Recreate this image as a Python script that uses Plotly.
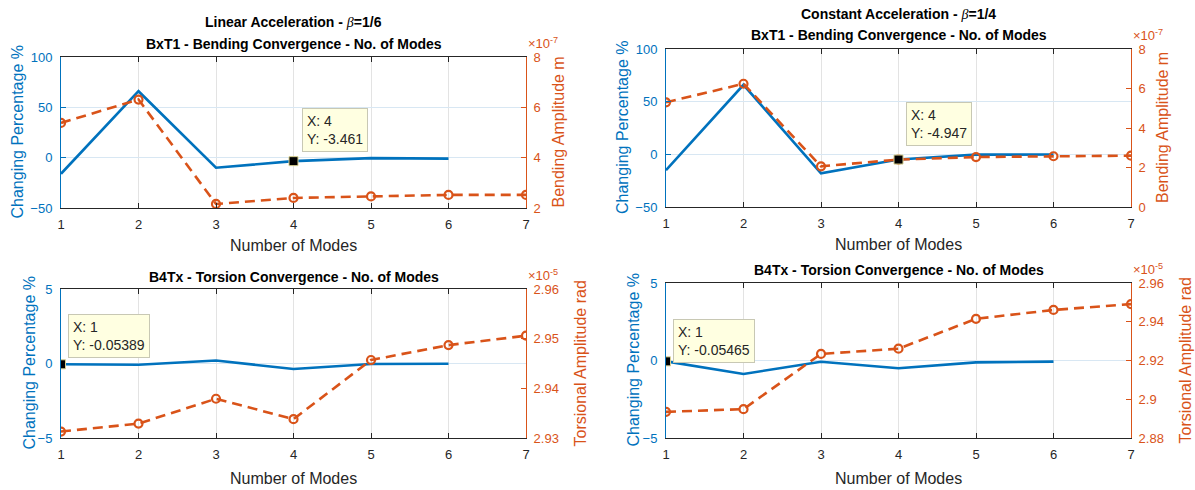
import plotly.graph_objects as go

# ---------------- data ----------------
modes = [1, 2, 3, 4, 5, 6, 7]
modes_pct = [1, 2, 3, 4, 5, 6]

# Linear acceleration (beta = 1/6)
bend_pct_lin = [-16, 66, -10, -3.461, -0.5, -1]
bend_amp_lin_e7 = [5.38, 6.31, 2.16, 2.40, 2.46, 2.52, 2.52]      # x 1e-7 m
tors_pct_lin = [-0.05389, -0.08, 0.2, -0.37, -0.03, -0.02]
tors_amp_lin_e5 = [2.9313, 2.9329, 2.9379, 2.9338, 2.9457, 2.9487, 2.9506]  # x 1e-5 rad

# Constant acceleration (beta = 1/4)
bend_pct_con = [-15, 66, -18, -4.947, -0.3, -0.2]
bend_amp_con_e7 = [5.30, 6.24, 2.06, 2.40, 2.53, 2.57, 2.60]
tors_pct_con = [-0.05465, -0.87, -0.08, -0.5, -0.12, -0.07]
tors_amp_con_e5 = [2.8935, 2.8949, 2.9234, 2.9261, 2.9415, 2.9461, 2.9491]

# datatips (x, y)
tip_tl = (4, -3.461)
tip_tr = (4, -4.947)
tip_bl = (1, -0.05389)
tip_br = (1, -0.05465)

# ---------------- style ----------------
W, H = 1195, 490
BLUE = "#0072BD"
ORANGE = "#D95319"
DARK = "#262626"
FONT = "Liberation Sans, Arial, sans-serif"

# plot-area pixel boxes: (left, right, top, bottom)
boxes = {
    "tl": (61, 526, 57, 208),
    "tr": (666, 1131, 49, 207),
    "bl": (61, 526, 289, 438),
    "br": (666, 1131, 283, 438),
}


def xd(b):
    return [b[0] / W, b[1] / W]


def yd(b):
    return [1 - b[3] / H, 1 - b[2] / H]


fig = go.Figure()

panels = [
    ("tl", "x", "y", "y2", bend_pct_lin, bend_amp_lin_e7, [-50, 100], [-50, 0, 50, 100],
     [2, 8], [2, 4, 6, 8], ["2", "4", "6", "8"], "Bending Amplitude m", "-7", tip_tl),
    ("tr", "x2", "y3", "y4", bend_pct_con, bend_amp_con_e7, [-50, 100], [-50, 0, 50, 100],
     [0, 8], [0, 2, 4, 6, 8], ["0", "2", "4", "6", "8"], "Bending Amplitude m", "-7", tip_tr),
    ("bl", "x3", "y5", "y6", tors_pct_lin, tors_amp_lin_e5, [-5, 5], [-5, 0, 5],
     [2.93, 2.96], [2.93, 2.94, 2.95, 2.96], ["2.93", "2.94", "2.95", "2.96"], "Torsional Amplitude rad", "-5", tip_bl),
    ("br", "x4", "y7", "y8", tors_pct_con, tors_amp_con_e5, [-5, 5], [-5, 0, 5],
     [2.88, 2.96], [2.88, 2.90, 2.92, 2.94, 2.96], ["2.88", "2.9", "2.92", "2.94", "2.96"], "Torsional Amplitude rad", "-5", tip_br),
]

layout_axes = {}
annotations = []
shapes = []

label_shift = {
    "tl": dict(left=-44, right=32, xlab=-37, title2=13, title1=35, tip=(8, 9)),
    "tr": dict(left=-44, right=31, xlab=-38, title2=14, title1=35, tip=(7, 14)),
    "bl": dict(left=-32, right=54, xlab=-40, title2=12, title1=None, tip=(7, 6)),
    "br": dict(left=-33, right=54, xlab=-40, title2=13, title1=None, tip=(7, -2)),
}
titles = {
    "tl": ("<b>Linear Acceleration - </b><span style='font-family:Liberation Serif'><i>β</i></span><b>=1/6</b>",
           "<b>BxT1 - Bending Convergence - No. of Modes</b>"),
    "tr": ("<b>Constant Acceleration - </b><span style='font-family:Liberation Serif'><i>β</i></span><b>=1/4</b>",
           "<b>BxT1 - Bending Convergence - No. of Modes</b>"),
    "bl": (None, "<b>B4Tx - Torsion Convergence - No. of Modes</b>"),
    "br": (None, "<b>B4Tx - Torsion Convergence - No. of Modes</b>"),
}

for (key, xa, yl, yr, pct, amp, lrng, lticks, rrng, rticks, rtext, rtitle, expo, tip) in panels:
    b = boxes[key]
    s = label_shift[key]
    xname = "xaxis" + xa[1:]
    ylname = "yaxis" + yl[1:]
    yrname = "yaxis" + yr[1:]

    fig.add_trace(go.Scatter(x=modes_pct, y=pct, xaxis=xa, yaxis=yl, mode="lines",
                             line=dict(color=BLUE, width=2.6), showlegend=False, hoverinfo="skip"))
    fig.add_trace(go.Scatter(x=modes, y=amp, xaxis=xa, yaxis=yr, mode="lines+markers",
                             line=dict(color=ORANGE, width=2.6, dash="10px,6px"),
                             marker=dict(symbol="circle-open", size=8, color=ORANGE, line=dict(width=2.2, color=ORANGE)),
                             showlegend=False, hoverinfo="skip"))

    layout_axes[xname] = dict(
        domain=xd(b), anchor=yl, range=[1, 7], tickvals=modes, ticks="inside", ticklen=5,
        tickcolor=DARK, showline=True, linecolor=DARK, linewidth=1, mirror="ticks",
        showgrid=True, gridcolor="#e3e3e3", gridwidth=1, zeroline=False,
        tickfont=dict(family=FONT, size=13, color=DARK), ticklabelstandoff=4, fixedrange=True,
    )
    layout_axes[ylname] = dict(
        domain=yd(b), anchor=xa, range=lrng, tickvals=lticks, ticks="inside", ticklen=5,
        tickcolor=BLUE, showline=True, linecolor=BLUE, linewidth=1,
        showgrid=True, gridcolor="#d8e7f3", gridwidth=1, zeroline=False,
        tickfont=dict(family=FONT, size=13, color=BLUE), ticklabelstandoff=5, fixedrange=True,
    )
    layout_axes[yrname] = dict(
        overlaying=yl, side="right", anchor=xa, range=rrng, tickvals=rticks, ticktext=rtext,
        ticks="inside", ticklen=5, tickcolor=ORANGE, showline=True, linecolor=ORANGE, linewidth=1,
        showgrid=False, zeroline=False,
        tickfont=dict(family=FONT, size=13, color=ORANGE), ticklabelstandoff=4, fixedrange=True,
    )

    xmid = (b[0] + b[1]) / 2 / W
    ytop = 1 - b[2] / H
    ybot = 1 - b[3] / H
    xl = b[0] / W
    xr = b[1] / W

    t1, t2 = titles[key]
    annotations.append(dict(text=t2, x=xmid, y=ytop, xref="paper", yref="paper", xanchor="center",
                            yanchor="middle", yshift=s["title2"], showarrow=False,
                            font=dict(family=FONT, size=14, color="#000000")))
    if t1:
        annotations.append(dict(text=t1, x=xmid, y=ytop, xref="paper", yref="paper", xanchor="center",
                                yanchor="middle", yshift=s["title1"], showarrow=False,
                                font=dict(family=FONT, size=14, color="#000000")))
    annotations.append(dict(text="Number of Modes", x=xmid, y=ybot, xref="paper", yref="paper",
                            xanchor="center", yanchor="middle", yshift=s["xlab"], showarrow=False,
                            font=dict(family=FONT, size=16, color=DARK)))
    annotations.append(dict(text="Changing Percentage %", x=xl, y=(ytop + ybot) / 2, xref="paper", yref="paper",
                            xanchor="center", yanchor="middle", xshift=s["left"], textangle=-90, showarrow=False,
                            font=dict(family=FONT, size=16, color=BLUE)))
    annotations.append(dict(text=rtitle, x=xr, y=(ytop + ybot) / 2, xref="paper", yref="paper",
                            xanchor="center", yanchor="middle", xshift=s["right"], textangle=-90, showarrow=False,
                            font=dict(family=FONT, size=16, color=ORANGE)))
    annotations.append(dict(text="×10<sup>" + expo + "</sup>", x=xr, y=ytop, xref="paper", yref="paper",
                            xanchor="left", yanchor="bottom", xshift=0, yshift=4, showarrow=False,
                            font=dict(family=FONT, size=13, color=ORANGE)))
    # datatip
    annotations.append(dict(text="X: %g<br>Y: %s" % (tip[0], repr(tip[1])), x=tip[0], y=tip[1], xref=xa, yref=yl,
                            xanchor="left", yanchor="bottom", xshift=s["tip"][0], yshift=s["tip"][1],
                            showarrow=False, align="left", bgcolor="#ffffe1", bordercolor="#c8c8b4",
                            borderwidth=1, borderpad=4, font=dict(family=FONT, size=14, color=DARK)))
    shapes.append(dict(type="rect", xref=xa, yref=yl, xsizemode="pixel", ysizemode="pixel",
                       xanchor=tip[0], yanchor=tip[1], x0=-4.5, x1=4.5, y0=-4.5, y1=4.5,
                       fillcolor="#000000", line=dict(color="#d8d090", width=1), layer="above"))

fig.update_layout(
    width=W, height=H,
    margin=dict(l=0, r=0, t=0, b=0, autoexpand=False),
    paper_bgcolor="white", plot_bgcolor="white",
    font=dict(family=FONT),
    annotations=annotations, shapes=shapes,
    showlegend=False,
    **layout_axes,
)

fig.write_html(
    "out.html",
    config={"displayModeBar": False},
    post_script="document.body.style.margin='0px';document.body.style.overflow='hidden';",
)
